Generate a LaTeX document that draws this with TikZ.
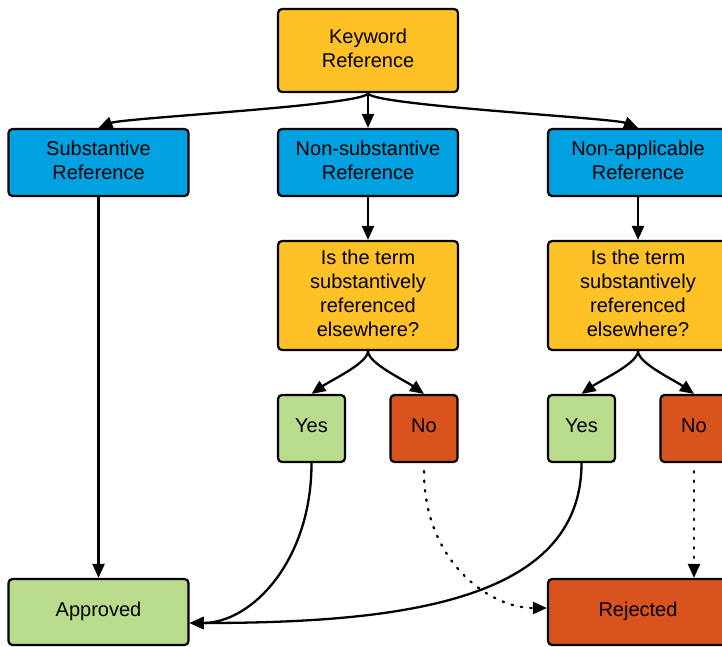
\documentclass[tikz,border=0pt]{standalone}
\usepackage{fontspec}
\setmainfont{Liberation Sans}
\usetikzlibrary{arrows.meta}
\definecolor{kwyellow}{RGB}{254,193,38}
\definecolor{kwblue}{RGB}{0,161,224}
\definecolor{kwgreen}{RGB}{184,220,139}
\definecolor{kwred}{RGB}{217,83,30}
\begin{document}
\begin{tikzpicture}[x=1pt,y=-1pt,
  box/.style={draw=black, line width=2.2pt, rounded corners=4pt, align=center, inner sep=0pt,
    font=\fontsize{20}{24}\selectfont, minimum width=180pt, text depth=5pt},
  yellowbox/.style={box, fill=kwyellow},
  bluebox/.style={box, fill=kwblue, minimum height=67pt},
  smallbox/.style={box, minimum width=67pt, minimum height=67pt},
  conn/.style={line width=2.3pt, -{Triangle[length=14pt,width=12pt]}},
  dotconn/.style={conn, dash pattern=on 1.5pt off 8pt, line cap=round, shorten <=8pt}
]
\useasboundingbox (0,0) rectangle (722,647);

\node[yellowbox, minimum height=83pt] (kw) at (368,50.5) {Keyword\\Reference};
\node[bluebox] (sub) at (98.5,162.5) {Substantive\\Reference};
\node[bluebox] (nons) at (368,162.5) {Non-substantive\\Reference};
\node[bluebox] (nona) at (638,162.5) {Non-applicable\\Reference};
\node[yellowbox, minimum height=109pt] (q1) at (368,295.5) {Is the term\\substantively\\referenced\\elsewhere?};
\node[yellowbox, minimum height=109pt] (q2) at (638,295.5) {Is the term\\substantively\\referenced\\elsewhere?};
\node[smallbox, fill=kwgreen] (y1) at (311.5,428.5) {Yes};
\node[smallbox, fill=kwred] (n1) at (424,428.5) {No};
\node[smallbox, fill=kwgreen] (y2) at (581.5,428.5) {Yes};
\node[smallbox, fill=kwred] (n2) at (694,428.5) {No};
\node[box, fill=kwgreen, minimum height=66pt] (app) at (98.5,612) {Approved};
\node[box, fill=kwred, minimum height=66pt] (rej) at (638,612) {Rejected};

\coordinate (appin) at ([yshift=-11pt]app.east);
\coordinate (rejin) at ([yshift=4pt]rej.west);

\draw[conn] (kw.south) .. controls +(0,12) and +(25,-10) .. (sub.north);
\draw[conn] (kw.south) -- (nons.north);
\draw[conn] (kw.south) .. controls +(0,12) and +(-25,-10) .. (nona.north);
\draw[conn] (nons.south) -- (q1.north);
\draw[conn] (nona.south) -- (q2.north);
\draw[conn] (q1.south) .. controls +(0,12) and +(20,-14) .. (y1.north);
\draw[conn] (q1.south) .. controls +(0,12) and +(-20,-14) .. (n1.north);
\draw[conn] (q2.south) .. controls +(0,12) and +(20,-14) .. (y2.north);
\draw[conn] (q2.south) .. controls +(0,12) and +(-20,-14) .. (n2.north);
\draw[conn] (sub.south) -- (app.north);
\draw[conn] (y1.south) .. controls +(0,98) and +(62,0) .. (appin);
\draw[conn] (y2.south) .. controls +(0,138) and +(212,0) .. (appin);
\draw[dotconn] (n1.south) .. controls +(0,98) and +(-58,0) .. (rejin);
\draw[dotconn] (n2.south) -- (n2.south |- rej.north);
\end{tikzpicture}
\end{document}
